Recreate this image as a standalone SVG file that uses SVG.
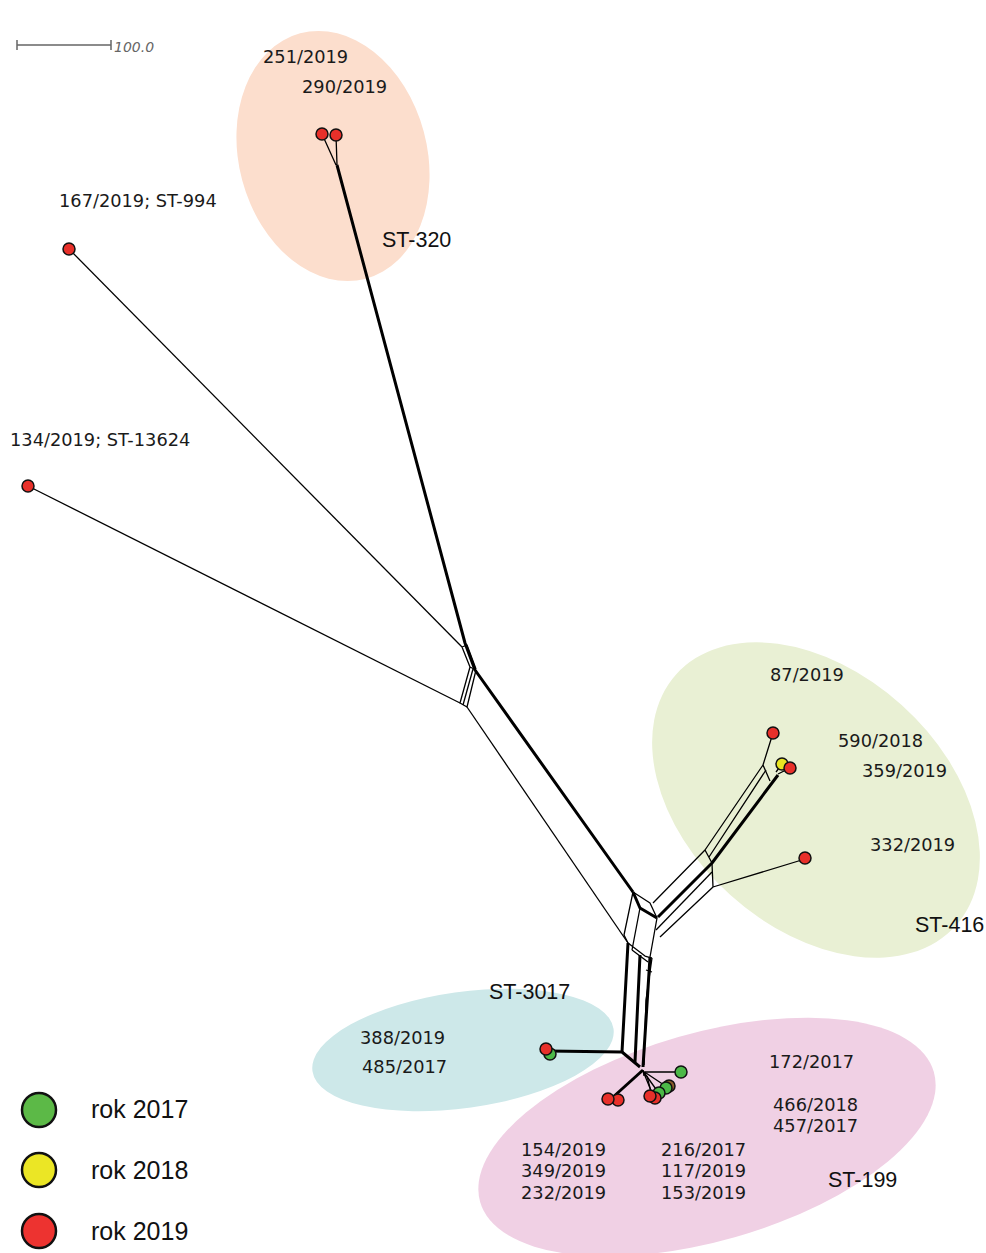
<svg xmlns="http://www.w3.org/2000/svg" width="986" height="1253" viewBox="0 0 986 1253">
<style>
.lbl{font-family:"DejaVu Sans",Verdana,sans-serif;font-size:17.8px;fill:#1a1a1a}
.st{font-family:"Liberation Sans",Arial,sans-serif;font-size:21.5px;fill:#111}
.leg{font-family:"Liberation Sans",Arial,sans-serif;font-size:25px;fill:#111}
.th{stroke:#000;stroke-width:1.3;fill:none;stroke-linejoin:round}
.tk{stroke:#000;stroke-width:3;fill:none;stroke-linejoin:round}
.r{fill:#e8302a;stroke:#111;stroke-width:1.5}
.g{fill:#4cb847;stroke:#111;stroke-width:1.5}
.y{fill:#e9e523;stroke:#111;stroke-width:1.5}
</style>
<rect width="986" height="1253" fill="#fff"/>

<g id="scale">
<path d="M17 45H111M17 40V50M111 40V50" stroke="#666" stroke-width="1.5" fill="none"/>
<text x="114" y="52" font-family="DejaVu Sans,Verdana,sans-serif" font-size="14" font-style="italic" fill="#666">100.0</text>
</g>

<g id="areas">
<ellipse cx="333" cy="156" rx="94" ry="127" transform="rotate(-15 333 156)" fill="#fcdecd"/>
<ellipse cx="816" cy="800" rx="188" ry="128" transform="rotate(42 816 800)" fill="#e9f0d4"/>
<ellipse cx="463" cy="1050" rx="152" ry="58" transform="rotate(-8 463 1050)" fill="#cde8e9"/>
<ellipse cx="707" cy="1137" rx="236" ry="104" transform="rotate(-16 707 1137)" fill="#f0d0e4"/>
</g>

<g id="connectors">
<!-- ST-320 branch -->
<path class="th" d="M322 134L336 165M336 135L337 165"/>
<path class="tk" d="M337 165L465 643L475 670L633 892"/>
<!-- 167/2019 -->
<path class="th" d="M69 249L462 647"/>
<!-- 134/2019 -->
<path class="th" d="M28 486L460 703"/>
<!-- upper box -->
<path class="th" d="M462 647L467 645L476 669M462 647L470 667M470 667L476 670M470 667L460 703L467 707L476 670"/>
<path class="th" d="M473 669L463 705"/>
<path class="th" d="M467 707L628 943"/>
<!-- central box -->
<path class="th" d="M633 892L650 903L657 918M633 892L624 935L628 943"/>
<path class="tk" d="M633 892L640 908L657 918"/>
<path class="th" d="M640 908L632 950M657 918L650 957M628 943L645 956L652 958M632 950L648 962M646 970L652 972"/>
<path class="tk" d="M628 943L622 1052M640 955L635 1062M650 957L643 1067"/>
<path class="th" d="M652 958L646 1000L644 1065"/>
<!-- ST-416 branch -->
<path class="th" d="M653 903L705 850L763 765M773 733L763 765L770 781"/>
<path class="tk" d="M658 917L712 863L778 775"/>
<path class="th" d="M782 764L776 772M790 768L778 774M766 770L709 857"/>
<path class="th" d="M705 850L712 863L713 887L805 859M660 937L713 887"/>
<path class="th" d="M656 930L712 872"/>
<!-- ST-3017 / ST-199 -->
<path class="tk" d="M548 1051L622 1052L640 1067"/>
<path class="tk" d="M643 1070L612 1098" stroke-width="4"/>
<path class="th" d="M643 1070L644 1076" stroke-width="3"/>
<path class="th" d="M645 1072H680" stroke="#3a1f3a"/>
<path class="th" d="M643 1071L652 1093M643 1071L658 1092M643 1071L667 1087"/>
<path class="th" d="M647 1076L651 1092" stroke="#5a2a5a"/>
</g>

<g id="st320">
<circle class="r" cx="322" cy="134" r="6"/>
<circle class="r" cx="336" cy="135" r="6"/>
<text class="lbl" x="263" y="63">251/2019</text>
<text class="lbl" x="302" y="93">290/2019</text>
<text class="st" x="382" y="247">ST-320</text>
</g>

<g id="st994">
<circle class="r" cx="69" cy="249" r="6"/>
<text class="lbl" x="59" y="207">167/2019; ST-994</text>
</g>

<g id="st13624">
<circle class="r" cx="28" cy="486" r="6"/>
<text class="lbl" x="10" y="446">134/2019; ST-13624</text>
</g>

<g id="st416">
<circle class="r" cx="773" cy="733" r="6"/>
<circle class="y" cx="782" cy="764" r="6"/>
<circle class="r" cx="790" cy="768" r="6"/>
<circle class="r" cx="805" cy="858" r="6"/>
<text class="lbl" x="770" y="681">87/2019</text>
<text class="lbl" x="838" y="747">590/2018</text>
<text class="lbl" x="862" y="777">359/2019</text>
<text class="lbl" x="870" y="851">332/2019</text>
<text class="st" x="915" y="932">ST-416</text>
</g>

<g id="st3017">
<circle class="g" cx="550" cy="1054" r="6"/>
<circle class="r" cx="546" cy="1049" r="6"/>
<text class="st" x="489" y="999">ST-3017</text>
<text class="lbl" x="360" y="1044">388/2019</text>
<text class="lbl" x="362" y="1073">485/2017</text>
</g>

<g id="st199">
<circle class="g" cx="681" cy="1072" r="6"/>
<circle cx="669" cy="1086" r="6" fill="#8a5a2a" stroke="#111" stroke-width="1.5"/>
<circle class="g" cx="666" cy="1088" r="6"/>
<circle class="g" cx="659" cy="1093" r="6"/>
<circle class="r" cx="655" cy="1098" r="6"/>
<circle class="r" cx="650" cy="1096" r="6"/>
<circle class="r" cx="618" cy="1100" r="6"/>
<circle class="r" cx="608" cy="1099" r="6"/>
<text class="lbl" x="769" y="1068">172/2017</text>
<text class="lbl" x="773" y="1111">466/2018</text>
<text class="lbl" x="773" y="1132">457/2017</text>
<text class="lbl" x="521" y="1156">154/2019</text>
<text class="lbl" x="521" y="1177">349/2019</text>
<text class="lbl" x="521" y="1199">232/2019</text>
<text class="lbl" x="661" y="1156">216/2017</text>
<text class="lbl" x="661" y="1177">117/2019</text>
<text class="lbl" x="661" y="1199">153/2019</text>
<text class="st" x="828" y="1187">ST-199</text>
</g>

<g id="legend">
<circle cx="39" cy="1110" r="17" fill="#5cb947" stroke="#111" stroke-width="2.5"/>
<circle cx="39" cy="1170" r="17" fill="#ebe625" stroke="#111" stroke-width="2.5"/>
<circle cx="39" cy="1231" r="17" fill="#ed3330" stroke="#111" stroke-width="2.5"/>
<text class="leg" x="91" y="1118">rok 2017</text>
<text class="leg" x="91" y="1179">rok 2018</text>
<text class="leg" x="91" y="1240">rok 2019</text>
</g>
</svg>
